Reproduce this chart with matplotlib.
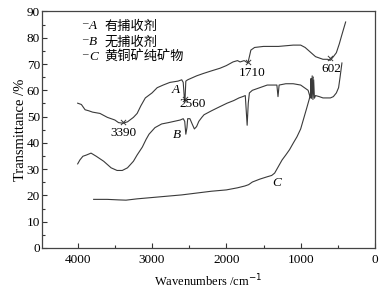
import matplotlib
matplotlib.use("Agg")
import matplotlib.pyplot as plt
from matplotlib.ticker import MultipleLocator

# ---- data ----
wn_a = [4000, 3950, 3900, 3850, 3800, 3700, 3600, 3500, 3450, 3390, 3330, 3250, 3200, 3150, 3090,
        3000, 2930, 2850, 2760, 2650, 2600, 2580, 2565, 2560, 2555, 2545, 2520, 2400, 2310, 2200,
        2085, 2000, 1910, 1850, 1815, 1760, 1710, 1690, 1670, 1620, 1500, 1300, 1100, 1000, 940,
        880, 800, 700, 640, 602, 560, 520, 480, 450, 420, 395]
val_a = [55.1, 54.6, 52.6, 52.2, 51.7, 51.2, 49.7, 48.7, 47.7, 47.5, 48.0, 49.7, 51.2, 54.1, 57.1,
         59.0, 61.0, 62.0, 63.0, 63.5, 64.0, 63.0, 57.0, 56.0, 57.0, 63.5, 64.0, 65.5, 66.4, 67.4,
         68.4, 69.4, 70.8, 71.3, 70.8, 71.3, 70.4, 72.8, 75.3, 76.3, 76.7, 76.7, 77.2, 77.2, 76.3,
         74.8, 72.8, 71.8, 71.8, 71.4, 72.8, 74.3, 77.7, 80.7, 83.6, 86.0]

wn_b = [4000, 3970, 3930, 3880, 3820, 3750, 3650, 3550, 3470, 3400, 3330, 3250, 3200, 3130, 3080,
        3040, 2960, 2870, 2780, 2700, 2620, 2580, 2560, 2545, 2530, 2520, 2490, 2460, 2430, 2400,
        2370, 2330, 2300, 2200, 2100, 1990, 1900, 1830, 1780, 1745, 1730, 1720, 1705, 1690, 1650,
        1550, 1450, 1350, 1320, 1305, 1290, 1200, 1100, 1000, 950, 900, 870, 860, 855, 845,
        835, 825, 815, 800, 750, 700, 600, 560, 520, 490, 470, 445]
val_b = [32.0, 33.5, 34.9, 35.4, 36.1, 34.9, 33.0, 30.5, 29.5, 29.5, 30.5, 33.0, 35.4, 38.4, 41.3,
         43.3, 45.8, 47.2, 47.7, 48.2, 48.7, 49.2, 48.2, 43.3, 45.8, 49.2, 49.2, 47.2, 45.3, 46.2,
         48.2, 49.7, 50.7, 52.2, 53.6, 55.1, 56.1, 57.1, 57.6, 58.0, 51.2, 46.7, 55.1, 59.0, 60.0,
         61.0, 62.0, 62.0, 62.0, 57.6, 62.0, 62.5, 62.5, 62.0, 61.0, 60.0, 57.1, 64.5, 57.0, 65.5,
         56.5, 64.0, 57.0, 58.0, 57.6, 57.1, 57.1, 57.6, 59.0, 61.0, 65.0, 70.4]

wn_c = [3785, 3600, 3450, 3350, 3200, 3000, 2800, 2600, 2400, 2200, 2000, 1850, 1750, 1700, 1650,
        1550, 1450, 1390, 1350, 1300, 1250, 1200, 1150, 1100, 1050, 1000, 960, 920, 880, 850, 830]
val_c = [18.5, 18.5, 18.3, 18.2, 18.7, 19.2, 19.7, 20.2, 20.9, 21.6, 22.1, 22.9, 23.6, 24.1, 25.1,
         26.2, 27.1, 27.6, 28.5, 31.0, 33.5, 35.4, 37.4, 39.9, 42.3, 45.3, 49.2, 53.1, 57.1, 61.0, 65.0]

peak_wn = [3390, 2560, 1710, 602]
peak_val = [47.9, 56.6, 70.6, 72.2]
peak_labels = ["3390", "2560", "1710", "602"]

curve_names = ["A", "B", "C"]
legend_names = ["有捕收剂", "无捕收剂", "黄铜矿纯矿物"]

# ---- plot ----
serif = "Liberation Serif"
cjk = "Noto Sans CJK SC"
fig = plt.figure(figsize=(3.87, 2.94), dpi=100)
ax = fig.add_axes([0.1085, 0.1565, 0.8605, 0.8045])
lc = "#3a3a3a"
lw = 0.8
ax.plot(wn_a, val_a, color=lc, lw=lw)
ax.plot(wn_b, val_b, color=lc, lw=lw)
ax.plot(wn_c, val_c, color=lc, lw=lw)
ax.scatter(peak_wn, peak_val, marker="x", s=14, color=lc, linewidths=0.7, zorder=3)

ax.set_xlim(4480, 0)
ax.set_ylim(0, 90)
ax.xaxis.set_major_locator(MultipleLocator(1000))
ax.xaxis.set_minor_locator(MultipleLocator(500))
ax.yaxis.set_major_locator(MultipleLocator(10))
ax.yaxis.set_minor_locator(MultipleLocator(5))
ax.tick_params(which="both", direction="in", color="#333333", width=0.8, labelsize=9.5)
ax.tick_params(which="major", length=3.5)
ax.tick_params(which="minor", length=2)
ax.tick_params(axis="x", pad=4)
ax.tick_params(axis="y", pad=1.5)
for lab in ax.get_xticklabels() + ax.get_yticklabels():
    lab.set_family(serif)
for s in ax.spines.values():
    s.set_color("#444444")
    s.set_linewidth(0.9)

ax.set_xlabel("Wavenumbers /cm$^{-1}$", family=serif, fontsize=9, labelpad=5)
ax.set_ylabel("Transmittance /%", family=serif, fontsize=10.5, labelpad=0)

# peak labels
ax.text(3390, 43.7, peak_labels[0], family=serif, fontsize=9.5, ha="center", va="center")
ax.text(2460, 54.7, peak_labels[1], family=serif, fontsize=9.5, ha="center", va="center")
ax.text(1650, 66.5, peak_labels[2], family=serif, fontsize=9.5, ha="center", va="center")
ax.text(585, 68.0, peak_labels[3], family=serif, fontsize=9.5, ha="center", va="center")

# curve labels
ax.text(2680, 60.0, curve_names[0], family=serif, style="italic", fontsize=9.5, ha="center", va="center")
ax.text(2670, 42.9, curve_names[1], family=serif, style="italic", fontsize=9.5, ha="center", va="center")
ax.text(1320, 24.7, curve_names[2], family=serif, style="italic", fontsize=9.5, ha="center", va="center")

# legend as text
leg_y = [84.3, 78.2, 72.5]
for name, lab, y in zip(curve_names, legend_names, leg_y):
    ax.text(3945, y + 1.0, "–", family=serif, fontsize=8, ha="left", va="center")
    ax.text(3850, y, name, family=serif, style="italic", fontsize=9.5, ha="left", va="center")
    ax.text(3640, y, lab, family=cjk, fontsize=9.5, ha="left", va="center")

fig.savefig("out.png", dpi=100)
